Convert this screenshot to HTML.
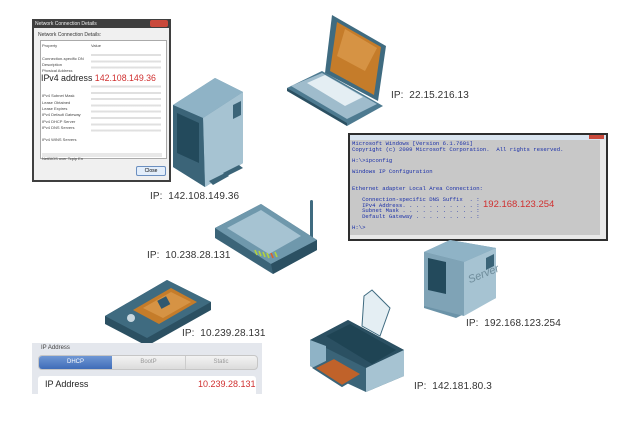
<!DOCTYPE html>
<html><head><meta charset="utf-8"><style>
body{margin:0;width:617px;height:430px;background:#fff;position:relative;overflow:hidden;font-family:"Liberation Sans",sans-serif}
.lb{position:absolute;font-size:10px;color:#333;letter-spacing:0.1px;white-space:nowrap}
.a{position:absolute}
</style></head><body>

<div class="a" style="left:32px;top:19px;width:139px;height:163px;background:#3f3f3f"></div>
<div class="a" style="left:34px;top:28px;width:135px;height:152px;background:#f0f0f0"></div>
<div class="a" style="left:35px;top:21px;font-size:5px;color:#eee">Network Connection Details</div>
<div class="a" style="left:150px;top:20px;width:18px;height:7px;background:#c9493b;border-radius:2px"></div>
<div class="a" style="left:38px;top:32px;font-size:5px;color:#333">Network Connection Details:</div>
<div class="a" style="left:40px;top:40px;width:125px;height:117px;background:#fff;border:1px solid #aaa"></div>
<div class="a" style="left:42px;top:43px;font-size:4px;color:#444;line-height:6.3px;width:60px">Property<br><br>Connection-specific DN<br>Description<br>Physical Address<br>DHCP Enabled<br><br><br>IPv4 Subnet Mask<br>Lease Obtained<br>Lease Expires<br>IPv4 Default Gateway<br>IPv4 DHCP Server<br>IPv4 DNS Servers<br><br>IPv4 WINS Servers<br><br><br>NetBIOS over Tcpip En</div>
<div class="a" style="left:91px;top:43px;font-size:4px;color:#444">Value</div>
<div class="a" style="left:91px;top:52px;width:70px;height:80px;background:repeating-linear-gradient(#fff 0 2px,#d8d8d8 2px 4px,#fff 4px 6.3px);opacity:.8"></div>
<div class="a" style="left:41px;top:72px;width:120px;height:12px;background:#fff"></div>
<div class="a" style="left:41px;top:73px;font-size:8.8px;color:#222;white-space:nowrap">IPv4 address <span style="color:#d03030">142.108.149.36</span></div>
<div class="a" style="left:42px;top:153px;width:120px;height:4px;background:#e8e8e8"></div>
<div class="a" style="left:136px;top:166px;width:28px;height:8px;border:1px solid #6b8fc0;background:#e3eefb;border-radius:2px;font-size:5px;text-align:center;line-height:8px">Close</div>

<svg class="a" style="left:165px;top:75px" width="85" height="115" viewBox="0 0 85 115">
<polygon points="8,30 50,3 78,17 78,88 40,112 8,92" fill="#5f8aa0"/>
<polygon points="8,30 50,3 78,17 38,43" fill="#8fb3c6"/>
<polygon points="38,43 78,17 78,88 40,112" fill="#a6c3d2"/>
<polygon points="8,30 38,43 40,112 8,92" fill="#3b6478"/>
<polygon points="12,38 34,48 34,88 12,78" fill="#234a5c"/>
<polygon points="68,30 76,26 76,40 68,44" fill="#3b6478"/>
<polygon points="44,106 60,98 64,101 48,110" fill="#3b6478"/>
<polygon points="58,98 74,90 78,93 62,101" fill="#3b6478"/>
</svg>
<div class="lb" style="left:150px;top:191px">IP:&nbsp; 142.108.149.36</div>

<svg class="a" style="left:285px;top:11px" width="108" height="115" viewBox="0 0 108 115">
<polygon points="47,4 101,35 93,90 40,62" fill="#3f6b80"/>
<polygon points="52,11 96,36 89,84 45,60" fill="#c57c2a"/>
<polygon points="60,18 92,37 80,60 52,45" fill="#e1a456" opacity=".6"/>
<polygon points="2,77 37,60 98,95 62,115" fill="#4d7a90"/>
<polygon points="6,75 37,62 92,93 62,108" fill="#9fbccc"/>
<polygon points="22,72 40,64 78,86 60,95" fill="#e4eef3"/>
<polygon points="2,77 62,112 62,115 2,80" fill="#2b5062"/>
</svg>
<div class="lb" style="left:391px;top:90px">IP:&nbsp; 22.15.216.13</div>

<div class="a" style="left:348px;top:133px;width:260px;height:108px;background:#2e2e2e"></div>
<div class="a" style="left:350px;top:135px;width:256px;height:5px;background:#d9e4ef"></div>
<div class="a" style="left:589px;top:135px;width:15px;height:4px;background:#c9493b"></div>
<div class="a" style="left:350px;top:140px;width:250px;height:95px;background:#c8c8c8"></div>
<div class="a" style="left:350px;top:235px;width:256px;height:4px;background:#e8e8e8"></div>
<div class="a" style="left:600px;top:140px;width:6px;height:95px;background:#e8e8e8"></div>
<div class="a" style="left:352px;top:141px;font-family:'Liberation Mono',monospace;font-size:5.6px;line-height:5.6px;color:#1a2fa8;white-space:pre">Microsoft Windows [Version 6.1.7601]
Copyright (c) 2009 Microsoft Corporation.  All rights reserved.

H:\>ipconfig

Windows IP Configuration


Ethernet adapter Local Area Connection:

   Connection-specific DNS Suffix  . :
   IPv4 Address. . . . . . . . . . . :
   Subnet Mask . . . . . . . . . . . :
   Default Gateway . . . . . . . . . :

H:\></div>
<div class="a" style="left:483px;top:199px;font-size:9.5px;color:#d03030">192.168.123.254</div>

<svg class="a" style="left:420px;top:238px" width="80" height="82" viewBox="0 0 80 82">
<polygon points="4,14 30,2 76,10 76,60 36,80 4,70" fill="#6b93a8"/>
<polygon points="4,14 30,2 76,10 44,24" fill="#8fb3c6"/>
<polygon points="44,24 76,10 76,60 44,78" fill="#a6c3d2"/>
<polygon points="4,14 44,24 44,78 4,68" fill="#7fa3b6"/>
<polygon points="8,20 26,24 26,56 8,52" fill="#234a5c"/>
<polygon points="66,20 74,16 74,28 66,32" fill="#3b6478"/>
<text x="48" y="44" font-size="11" font-style="italic" fill="#6e8c9b" transform="rotate(-22 52 40)" font-family="Liberation Sans">Server</text>
</svg>
<div class="lb" style="left:466px;top:318px">IP:&nbsp; 192.168.123.254</div>

<svg class="a" style="left:213px;top:198px" width="108" height="76" viewBox="0 0 108 76">
<rect x="97" y="2" width="3" height="40" rx="1.5" fill="#3f6b80"/>
<polygon points="2,30 48,6 104,42 104,52 60,76 2,40" fill="#3b6478"/>
<polygon points="2,30 48,6 104,42 58,66" fill="#6f98ac"/>
<polygon points="14,30 48,12 88,38 56,56" fill="#a6c3d2"/>
<polygon points="58,66 104,42 104,52 60,76" fill="#2b5062"/>
<g stroke-width="1.6"><line x1="42" y1="52" x2="44" y2="57" stroke="#b4d23c"/><line x1="46" y1="53" x2="48" y2="58" stroke="#b4d23c"/><line x1="50" y1="54" x2="52" y2="59" stroke="#b4d23c"/><line x1="54" y1="55" x2="56" y2="60" stroke="#b4d23c"/><line x1="58" y1="55" x2="60" y2="60" stroke="#e0602a"/><line x1="62" y1="54" x2="64" y2="59" stroke="#b4d23c"/></g>
</svg>
<div class="lb" style="left:147px;top:250px">IP:&nbsp; 10.238.28.131</div>

<svg class="a" style="left:103px;top:278px" width="112" height="68" viewBox="0 0 112 68">
<polygon points="2,38 64,2 108,24 108,32 44,68 2,46" fill="#2b5062"/>
<polygon points="2,38 64,2 108,24 44,60" fill="#3f6b80"/>
<polygon points="30,32 68,10 94,24 56,46" fill="#c57c2a"/>
<polygon points="40,30 68,14 88,24 60,40" fill="#e1a456" opacity=".6"/>
<rect x="56" y="20" width="10" height="9" fill="#2f5870" transform="rotate(-28 61 25)"/>
<circle cx="28" cy="40" r="4" fill="#c9d8e0"/>
</svg>
<div class="lb" style="left:182px;top:328px">IP:&nbsp; 10.239.28.131</div>

<div class="a" style="left:32px;top:343px;width:230px;height:51px;background:#e4e7ed"></div>
<div class="a" style="left:41px;top:345px;font-size:6px;color:#444">IP Address</div>
<div class="a" style="left:38px;top:355px;width:218px;height:13px;border-radius:4px;background:linear-gradient(#f3f3f3,#dcdcdc);border:1px solid #c6c6c6;overflow:hidden;font-size:6px;color:#999;line-height:13px">
 <div class="a" style="left:0;top:0;width:73px;height:13px;background:linear-gradient(#6f97d4,#3f6cb8);color:#fff;text-align:center">DHCP</div>
 <div class="a" style="left:73px;top:0;width:73px;height:13px;border-right:1px solid #ccc;text-align:center">BootP</div>
 <div class="a" style="left:146px;top:0;width:72px;height:13px;text-align:center">Static</div>
</div>
<div class="a" style="left:38px;top:376px;width:218px;height:18px;background:#fff;border-radius:3px 3px 0 0"></div>
<div class="a" style="left:45px;top:379px;font-size:9px;color:#222">IP Address</div>
<div class="a" style="left:198px;top:379px;font-size:9px;color:#d03030">10.239.28.131</div>

<svg class="a" style="left:306px;top:288px" width="110" height="104" viewBox="0 0 110 104">
<polygon points="58,8 66,2 84,20 74,48 56,38" fill="#e4eef3" stroke="#3f6b80" stroke-width="1"/>
<polygon points="4,52 42,32 98,62 98,88 60,104 4,78" fill="#3b6478"/>
<polygon points="4,52 42,32 98,62 60,80" fill="#2b5062"/>
<polygon points="20,48 44,36 90,62 66,76" fill="#1f4454"/>
<polygon points="60,80 98,62 98,88 60,104" fill="#a6c3d2"/>
<polygon points="4,52 20,58 20,84 4,78" fill="#8fb3c6"/>
<polygon points="8,80 28,70 56,86 36,98" fill="#c0622a" stroke="#3b6478" stroke-width="2"/>
</svg>
<div class="lb" style="left:414px;top:381px">IP:&nbsp; 142.181.80.3</div>

</body></html>
